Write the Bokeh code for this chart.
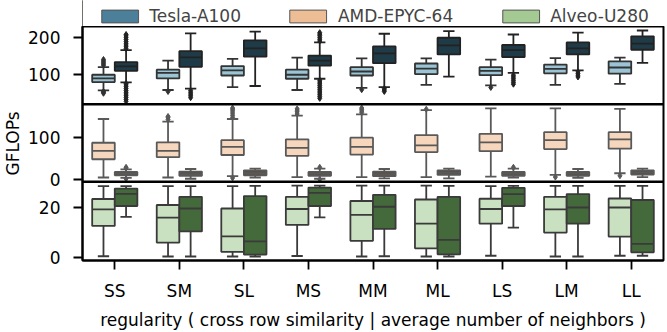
from bokeh.plotting import figure
from bokeh.layouts import column
from bokeh.models import (ColumnDataSource, FactorRange, Range1d, FixedTicker,
                          Legend, LegendItem, Span)
from bokeh.transform import dodge
from bokeh.embed import file_html
from bokeh.resources import INLINE

# ---------------- data ----------------
categories = ["SS", "SM", "SL", "MS", "MM", "ML", "LS", "LM", "LL"]
devices = ["Tesla-A100", "AMD-EPYC-64", "Alveo-U280"]

# five-number summaries: (lower whisker, Q1, median, Q3, upper whisker)
tesla_a = [(55, 78, 88, 98, 119), (56, 88, 103, 112, 137), (64, 96, 110, 122, 142),
           (56, 87, 98, 112, 145), (62, 96, 107, 119, 143), (70, 100, 115, 129, 143),
           (69, 97, 109, 119, 140), (70, 102, 114, 126, 144), (73, 101, 118, 135, 145)]
tesla_b = [(77, 109, 121, 133, 166), (60, 120, 146, 163, 212), (67, 148, 171, 193, 217),
           (87, 123, 137, 151, 187), (64, 130, 157, 176, 211), (93, 154, 179, 200, 218),
           (103, 147, 166, 180, 209), (110, 154, 171, 187, 214), (131, 167, 184, 204, 220)]
tesla_a_out = [[124, 128, 132, 136, 140, 47, 50, 52], [52], [], [], [57], [], [63], [], []]
tesla_b_out = [[170, 175, 180, 185, 190, 195, 200, 205, 209,
                25, 30, 35, 40, 45, 50, 55, 60, 65, 70, 74],
               [35, 40, 45, 50, 55], [],
               [191, 196, 201, 206, 210, 214,
                33, 38, 43, 48, 53, 58, 63, 68, 73, 78, 83],
               [52, 56, 60], [], [72, 77, 82, 87, 92, 97], [92, 97, 102, 106], []]

amd_a = [(5, 48, 68, 87, 143), (5, 53, 68, 88, 137), (8, 58, 77, 93, 143),
         (6, 56, 75, 95, 151), (6, 59, 77, 99, 154), (6, 65, 81, 105, 164),
         (7, 67, 88, 108, 168), (11, 72, 93, 112, 168), (15, 73, 95, 112, 167)]
amd_b = [(4, 10, 14, 18, 24), (2, 9, 13, 19, 25), (5, 10, 15, 22, 26),
         (2, 9, 14, 18, 26), (3, 8, 13, 19, 25), (3, 11, 16, 22, 26),
         (5, 9, 14, 18, 26), (4, 9, 14, 18, 25), (6, 12, 17, 22, 26)]
amd_a_out = [[], [142, 146, 149], [147, 152, 157, 162, 166, 169, 4],
             [155, 160, 164, 167], [158, 162, 166, 169], [166], [], [6], [9]]
amd_b_out = [[27, 29, 2], [], [], [29, 0.5], [], [], [29], [], []]

alveo_a = [(0.5, 12.7, 19.3, 23.5, 28.7), (0.4, 6.0, 16.0, 21.1, 28.7),
           (0.4, 2.3, 8.5, 19.7, 28.7), (0.6, 13.1, 19.5, 24.4, 28.9),
           (0.4, 6.7, 17.1, 22.7, 28.9), (0.4, 3.7, 13.6, 23.3, 28.9),
           (0.7, 13.6, 19.5, 23.6, 28.7), (0.4, 10.0, 19.3, 24.4, 28.8),
           (0.7, 8.4, 20.1, 23.7, 28.8)]
alveo_b = [(16.3, 20.7, 25.6, 27.7, 28.7), (0.4, 10.5, 19.7, 24.4, 28.7),
           (0.4, 1.2, 6.5, 24.7, 28.8), (16.1, 20.7, 26.0, 28.1, 28.9),
           (0.5, 11.5, 20.4, 25.2, 28.9), (0.4, 1.3, 7.1, 24.4, 28.8),
           (12.0, 20.7, 25.5, 28.0, 28.8), (0.4, 13.6, 20.1, 25.5, 28.8),
           (0.7, 2.1, 5.5, 23.1, 28.8)]
alveo_a_out = [[] for _ in categories]
alveo_b_out = [[] for _ in categories]

# visible value range and ticks of each panel (top to bottom)
y_lim_1 = (17, 231)
y_lim_2 = (-5.3, 178)
y_lim_3 = (-1.2, 30.4)
y_ticks_1 = [100, 200]
y_ticks_2 = [0, 100]
y_ticks_3 = [0, 20]

# ---------------- styling / layout ----------------
FONT = "DejaVu Sans"
FS = "17px"
legend_colors = ["#4c7f99", "#edbe96", "#a4c993"]
BOX_W = 0.35
CAP_W = 0.175
LW = 1.8

FRAME_H = 238                   # plot frame height in px
BANDS = {"p1": (159, 79),       # (px below the band, band height in px)
         "p2": (80, 79),
         "default": (0, 80)}


def full_range(lim, band):
    lo, hi = lim
    below, h = band
    upp = (hi - lo) / h
    return lo - below * upp, hi + (FRAME_H - below - h) * upp


r1 = full_range(y_lim_1, BANDS["p1"])
r2 = full_range(y_lim_2, BANDS["p2"])
r3 = full_range(y_lim_3, BANDS["default"])


def to_main(v, r):
    return r3[0] + (v - r[0]) / (r[1] - r[0]) * (r3[1] - r3[0])


def add_boxes(p, stats, outliers, offset, fill, edge, yname):
    lo, q1, med, q3, hi = (list(t) for t in zip(*stats))
    src = ColumnDataSource(dict(cat=categories, lo=lo, q1=q1, med=med, q3=q3, hi=hi))
    xc = dodge("cat", offset, range=p.x_range)
    xl = dodge("cat", offset - CAP_W / 2, range=p.x_range)
    xr = dodge("cat", offset + CAP_W / 2, range=p.x_range)
    bl = dodge("cat", offset - BOX_W / 2, range=p.x_range)
    br = dodge("cat", offset + BOX_W / 2, range=p.x_range)
    kw = dict(line_color=edge, line_width=LW, source=src, y_range_name=yname)
    p.segment(x0=xc, y0="lo", x1=xc, y1="q1", **kw)
    p.segment(x0=xc, y0="q3", x1=xc, y1="hi", **kw)
    p.segment(x0=xl, y0="lo", x1=xr, y1="lo", **kw)
    p.segment(x0=xl, y0="hi", x1=xr, y1="hi", **kw)
    p.vbar(x=xc, width=BOX_W, bottom="q1", top="q3", fill_color=fill, **kw)
    p.segment(x0=bl, y0="med", x1=br, y1="med", **kw)
    ox, oy = [], []
    for c, vals in zip(categories, outliers):
        for v in vals:
            ox.append(c)
            oy.append(v)
    osrc = ColumnDataSource(dict(cat=ox, v=oy))
    p.scatter(x=dodge("cat", offset, range=p.x_range), y="v", source=osrc,
              marker="diamond", size=6, fill_color=edge, line_color=edge,
              y_range_name=yname)


# ---------------- legend strip ----------------
pl = figure(width=667, height=26, x_range=Range1d(0, 1), y_range=Range1d(0, 1),
            output_backend="svg", toolbar_location=None,
            min_border_left=82, min_border_right=4, min_border_top=0,
            min_border_bottom=0, x_axis_location=None, y_axis_location=None)
pl.outline_line_color = None
pl.xgrid.visible = False
pl.ygrid.visible = False
items = []
for name, col in zip(devices, legend_colors):
    r = pl.vbar(x=[-10], bottom=[0], top=[1], width=0.1,
                fill_color=col, line_color="#555555", line_width=1)
    items.append(LegendItem(label=name, renderers=[r]))
legend = Legend(items=items, orientation="horizontal", location="bottom_center",
                label_text_font=FONT, label_text_font_size=FS,
                glyph_width=46, glyph_height=16, label_height=16,
                label_standoff=7, spacing=44, padding=0, margin=0,
                border_line_color=None, background_fill_alpha=0)
pl.add_layout(legend)

# ---------------- main figure (three stacked panels) ----------------
p = figure(width=667, height=306, x_range=FactorRange(factors=categories),
           y_range=Range1d(*r3), output_backend="svg", toolbar_location=None,
           min_border_left=82, min_border_right=4, min_border_top=0,
           min_border_bottom=68)
p.extra_y_ranges = {"p1": Range1d(*r1), "p2": Range1d(*r2)}
p.xgrid.visible = False
p.ygrid.visible = False
p.outline_line_color = "black"
p.outline_line_width = 2
p.background_fill_color = "white"
p.border_fill_color = "white"

add_boxes(p, tesla_a, tesla_a_out, -0.175, "#9bc4d4", "#333333", "p1")
add_boxes(p, tesla_b, tesla_b_out, 0.175, "#1f3b47", "#222222", "p1")
add_boxes(p, amd_a, amd_a_out, -0.175, "#f6d6bd", "#595959", "p2")
add_boxes(p, amd_b, amd_b_out, 0.175, "#5b4e45", "#595959", "p2")
add_boxes(p, alveo_a, alveo_a_out, -0.175, "#c9e0c1", "#3a3a3a", "default")
add_boxes(p, alveo_b, alveo_b_out, 0.175, "#44693a", "#3a3a3a", "default")

# panel separators at the top of panel 2 and panel 3
p.add_layout(Span(location=y_lim_2[1], dimension="width", y_range_name="p2",
                  line_color="black", line_width=2.5))
p.add_layout(Span(location=y_lim_3[1], dimension="width",
                  line_color="black", line_width=2.5))

tick_pos, tick_lab = [], {}
for ticks, rng in ((y_ticks_1, r1), (y_ticks_2, r2), (y_ticks_3, r3)):
    for t in ticks:
        pos = to_main(t, rng)
        tick_pos.append(pos)
        tick_lab[pos] = str(t)

ya = p.yaxis[0]
ya.ticker = FixedTicker(ticks=tick_pos)
ya.major_label_overrides = tick_lab
ya.minor_tick_line_color = None
ya.major_tick_out = 9
ya.major_tick_in = 0
ya.major_tick_line_width = 1.8
ya.major_tick_line_color = "black"
ya.axis_line_width = 2
ya.axis_line_color = "black"
ya.major_label_standoff = 13
ya.major_label_text_font = FONT
ya.major_label_text_font_size = FS
ya.major_label_text_color = "black"
ya.axis_label = "GFLOPs"
ya.axis_label_standoff = 2
ya.axis_label_text_font = FONT
ya.axis_label_text_font_size = FS
ya.axis_label_text_font_style = "normal"
ya.axis_label_text_color = "black"

xa = p.xaxis[0]
xa.axis_label = "regularity ( cross row similarity | average number of neighbors )"
xa.axis_label_standoff = 6
xa.axis_label_text_font = FONT
xa.axis_label_text_font_size = FS
xa.axis_label_text_font_style = "normal"
xa.axis_label_text_color = "black"
xa.major_tick_out = 9
xa.major_tick_in = 0
xa.major_tick_line_width = 1.8
xa.major_tick_line_color = "black"
xa.axis_line_width = 2
xa.major_label_standoff = 11
xa.major_label_text_font = FONT
xa.major_label_text_font_size = FS
xa.major_label_text_color = "black"

layout = column(pl, p, spacing=0)
open("out.html", "w").write(file_html(layout, INLINE))
